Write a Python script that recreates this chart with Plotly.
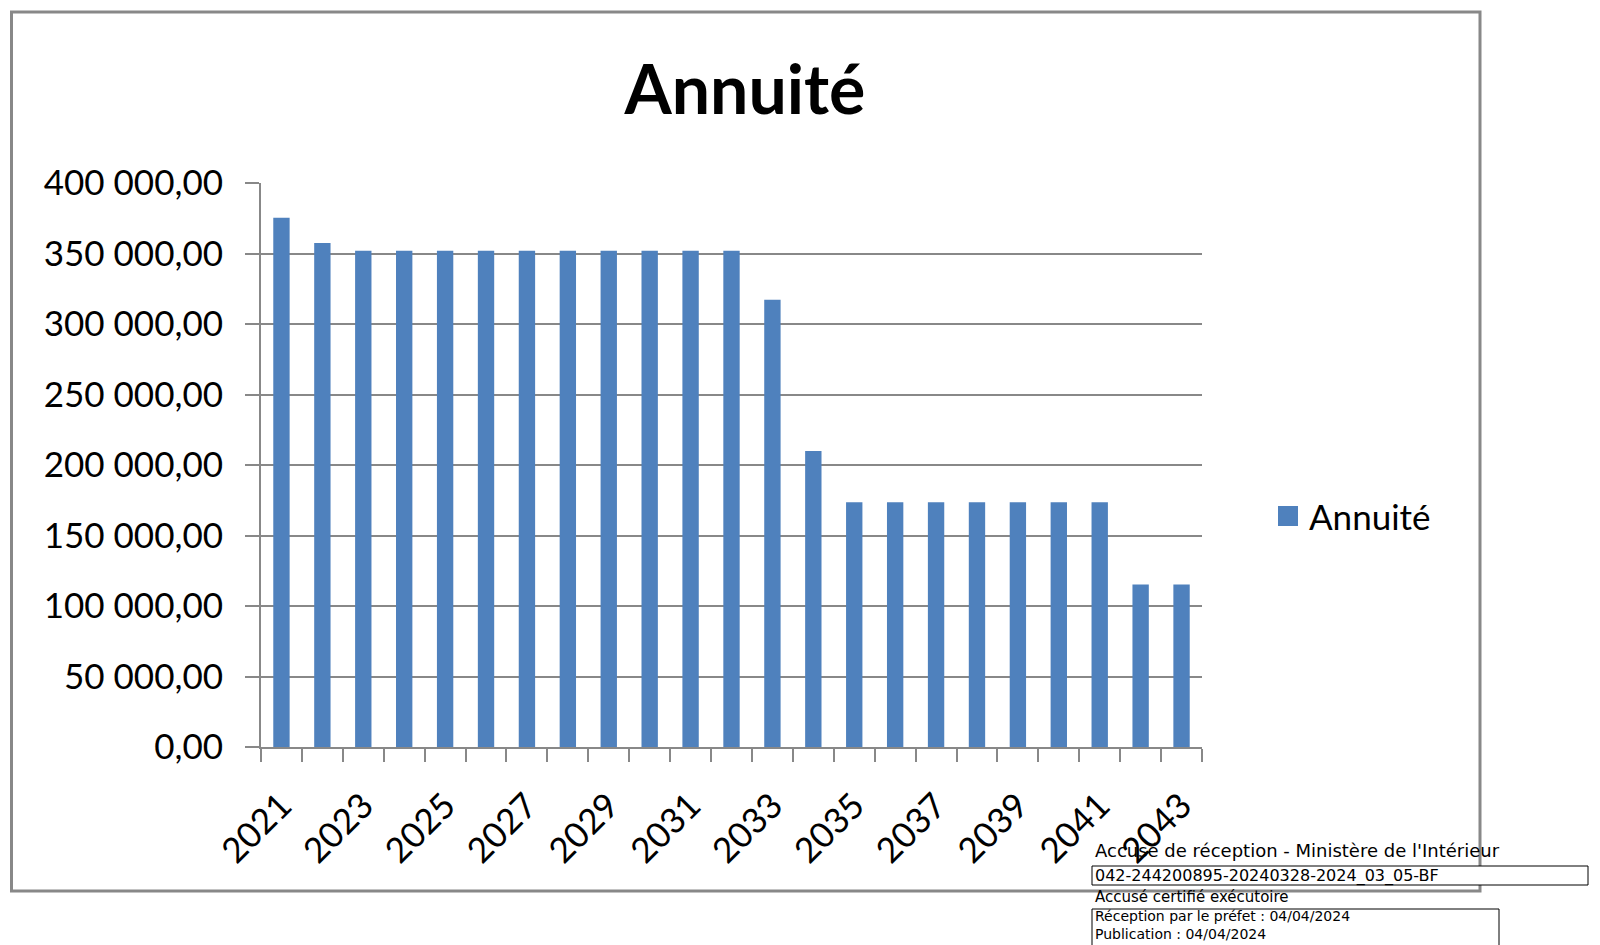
import plotly.graph_objects as go

# ---- data ----
years = list(range(2021, 2044))
annuite = [375300, 357500, 352000, 352000, 352000, 352000, 352000, 352000,
           352000, 352000, 352000, 352000, 317200, 210000, 173600, 173600,
           173600, 173600, 173600, 173600, 173600, 115300, 115300]
series_name = "Annuité"
chart_title = "Annuité"
label_years = years[::2]
stamp_lines = ["Accusé de réception - Ministère de l'Intérieur",
               "042-244200895-20240328-2024_03_05-BF",
               "Accusé certifié exécutoire"]
stamp_box_lines = ["Réception par le préfet : 04/04/2024",
                   "Publication : 04/04/2024"]

# page has an 8px body margin: figure is drawn at (8, 8)
OFF = 8
W, H = 1600 - OFF, 945 - OFF
# plot area in page pixels
L, R, T, B = 261, 1202, 183, 747
BLUE = "#4F81BD"
GRID = "#888888"
FONT = "Lato"


def px(x):
    return (x - L) / (R - L)


def py(y):
    return (B - y) / (B - T)


fig = go.Figure()
fig.add_trace(go.Bar(x=years, y=annuite, name=series_name,
                     marker=dict(color=BLUE, line=dict(width=0)),
                     showlegend=False))

boundaries = [y - 0.5 for y in years] + [years[-1] + 0.5]

fig.update_layout(
    width=W, height=H,
    margin=dict(l=L - OFF, r=W - (R - OFF), t=T - OFF, b=H - (B - OFF), pad=0),
    paper_bgcolor="white", plot_bgcolor="white",
    separators=", ",
    bargap=0.6,
    font=dict(family=FONT, color="black", size=35),
    title=dict(text="<b>" + chart_title + "</b>", x=(745 - OFF) / W,
               xanchor="center", y=1 - (90 - OFF) / H, yanchor="middle",
               font=dict(family=FONT, size=68, color="black")),
    xaxis=dict(range=[years[0] - 0.5, years[-1] + 0.5],
               tickmode="array", tickvals=label_years,
               ticktext=[str(v) for v in label_years],
               tickangle=-45, ticks="", showgrid=False,
               showline=True, linecolor=GRID, linewidth=2,
               ticklabelstandoff=22,
               tickfont=dict(family=FONT, size=35, color="black"),
               minor=dict(tickmode="array", tickvals=boundaries,
                          ticks="outside", ticklen=13, tickwidth=2,
                          tickcolor=GRID, showgrid=False),
               zeroline=False, fixedrange=True),
    yaxis=dict(range=[0, 400000], dtick=50000, tick0=0,
               tickformat=",.2f",
               ticks="outside", ticklen=14, tickwidth=2, tickcolor=GRID,
               showgrid=True, gridcolor=GRID, gridwidth=2,
               showline=True, linecolor=GRID, linewidth=2,
               ticklabelstandoff=15,
               tickfont=dict(family=FONT, size=35, color="black"),
               zeroline=False, fixedrange=True),
)

shapes = []
# outer chart frame
shapes.append(dict(type="rect", xref="paper", yref="paper",
                   x0=px(11.5), x1=px(1480), y0=py(12), y1=py(891),
                   line=dict(color=GRID, width=3), fillcolor="rgba(0,0,0,0)",
                   layer="below"))
# legend swatch
shapes.append(dict(type="rect", xref="paper", yref="paper",
                   x0=px(1278), x1=px(1298), y0=py(506), y1=py(526),
                   line=dict(width=0), fillcolor=BLUE))
# stamp boxes
shapes.append(dict(type="rect", xref="paper", yref="paper",
                   x0=px(1092), x1=px(1588), y0=py(866), y1=py(885),
                   line=dict(color="black", width=1), fillcolor="white"))
shapes.append(dict(type="rect", xref="paper", yref="paper",
                   x0=px(1092), x1=px(1499), y0=py(909), y1=py(950),
                   line=dict(color="black", width=1), fillcolor="white"))
fig.update_layout(shapes=shapes)

annots = [dict(text=series_name, xref="paper", yref="paper",
               x=px(1307), y=py(516), xanchor="left", yanchor="middle",
               showarrow=False, font=dict(family=FONT, size=35, color="black"))]
stamp_y = [850, 875.5, 896.5]
stamp_sz = [18, 16, 15]
for txt, yy, sz in zip(stamp_lines, stamp_y, stamp_sz):
    annots.append(dict(text=txt, xref="paper", yref="paper",
                       x=px(1093), y=py(yy), xanchor="left", yanchor="middle",
                       showarrow=False,
                       font=dict(family="DejaVu Sans", size=sz, color="black")))
annots.append(dict(text="<br>".join(stamp_box_lines), xref="paper", yref="paper",
                   x=px(1093), y=py(906), xanchor="left", yanchor="top",
                   align="left", showarrow=False,
                   font=dict(family="DejaVu Sans", size=14, color="black")))
fig.update_layout(annotations=annots)

fig.write_html("out.html")
